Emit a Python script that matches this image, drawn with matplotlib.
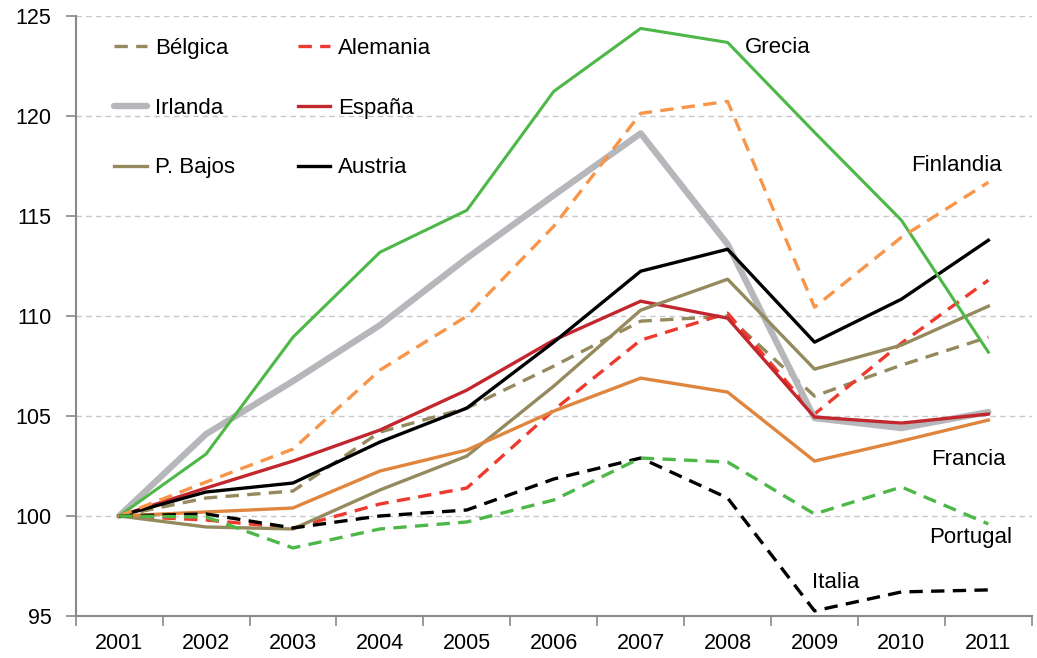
import matplotlib
matplotlib.use("Agg")
import matplotlib.pyplot as plt
import numpy as np

plt.rcParams['font.family'] = ['Liberation Sans', 'DejaVu Sans']

years = ['2001', '2002', '2003', '2004', '2005', '2006', '2007', '2008', '2009', '2010', '2011']

belgica = [100, 100.9, 101.25, 104.2, 105.4, 107.5, 109.75, 110.0, 106.0, 107.55, 108.95]
alemania = [100, 99.8, 99.4, 100.6, 101.4, 105.3, 108.8, 110.15, 105.1, 108.65, 111.8]
irlanda = [100, 104.1, 106.75, 109.55, 112.9, 116.05, 119.15, 113.6, 104.9, 104.4, 105.2]
espana = [100, 101.4, 102.75, 104.3, 106.3, 108.8, 110.75, 109.9, 104.95, 104.65, 105.1]
pbajos = [100, 99.45, 99.35, 101.3, 103.0, 106.5, 110.3, 111.85, 107.35, 108.55, 110.5]
austria = [100, 101.2, 101.65, 103.7, 105.4, 108.7, 112.25, 113.35, 108.7, 110.85, 113.8]
grecia = [100, 103.1, 108.95, 113.2, 115.3, 121.25, 124.4, 123.7, 119.2, 114.8, 108.2]
finlandia = [100, 101.7, 103.35, 107.3, 110.0, 114.5, 120.15, 120.75, 110.45, 113.95, 116.7]
francia = [100, 100.2, 100.4, 102.25, 103.3, 105.25, 106.9, 106.2, 102.75, 103.75, 104.8]
italia = [100, 100.1, 99.4, 100.0, 100.3, 101.85, 102.9, 100.9, 95.25, 96.2, 96.3]
portugal = [100, 99.95, 98.4, 99.35, 99.7, 100.8, 102.9, 102.7, 100.1, 101.45, 99.6]

olive = '#948A5E'
green = '#4DB848'
dash = (4, 2.5)
fs = 16

fig, ax = plt.subplots(figsize=(10.37, 6.58), dpi=100)
fig.subplots_adjust(left=0.073, right=0.995, top=0.975, bottom=0.064)
x = np.arange(len(years))

h_bel, = ax.plot(x, belgica, color=olive, lw=2.4, dashes=dash, label='Bélgica')
h_ale, = ax.plot(x, alemania, color='#EE3A2E', lw=2.4, dashes=dash, label='Alemania')
h_irl, = ax.plot(x, irlanda, color='#B5B7BA', lw=4.6, label='Irlanda', solid_capstyle='round')
h_esp, = ax.plot(x, espana, color='#C1272D', lw=2.4, label='España')
h_pb, = ax.plot(x, pbajos, color=olive, lw=2.4, label='P. Bajos')
h_aus, = ax.plot(x, austria, color='black', lw=2.4, label='Austria')
ax.plot(x, grecia, color=green, lw=2.2)
ax.plot(x, finlandia, color='#F7964A', lw=2.4, dashes=dash)
ax.plot(x, francia, color='#E0853D', lw=2.4)
ax.plot(x, italia, color='black', lw=2.4, dashes=dash)
ax.plot(x, portugal, color=green, lw=2.4, dashes=dash)

# labels inside the chart
ax.text(7.2, 123.45, 'Grecia', fontsize=fs, va='center', ha='left')
ax.text(10.15, 117.55, 'Finlandia', fontsize=fs, va='center', ha='right')
ax.text(10.2, 102.85, 'Francia', fontsize=fs, va='center', ha='right')
ax.text(10.27, 98.9, 'Portugal', fontsize=fs, va='center', ha='right')
ax.text(7.97, 96.65, 'Italia', fontsize=fs, va='center', ha='left')

ax.legend(handles=[h_bel, h_irl, h_pb, h_ale, h_esp, h_aus], ncol=2, frameon=False,
          fontsize=fs, loc='upper left', bbox_to_anchor=(0.0196, 0.998),
          handlelength=1.45, handletextpad=0.36, labelspacing=1.75, columnspacing=2.83)

ax.set_xlim(-0.5, 10.5)
ax.set_ylim(95, 125)
ax.set_yticks(np.arange(95, 126, 5))
ax.set_xticks(x)
ax.set_xticklabels(years)
ax.set_xticks(np.arange(-0.5, 10.6, 1), minor=True)
ax.tick_params(axis='x', which='major', length=0, pad=12, labelsize=15.5)
ax.tick_params(axis='x', which='minor', length=7.5, width=1.2, color='#898989')
ax.tick_params(axis='y', length=7.5, width=1.2, color='#898989', labelsize=15.5, pad=10)

ax.grid(axis='y', color='#C8C8C8', linestyle=(0, (4, 3)), lw=1)
ax.set_axisbelow(True)
for s in ['top', 'right']:
    ax.spines[s].set_visible(False)
for s in ['left', 'bottom']:
    ax.spines[s].set_color('#898989')
    ax.spines[s].set_linewidth(1.5)

plt.savefig('out.png', dpi=100)
